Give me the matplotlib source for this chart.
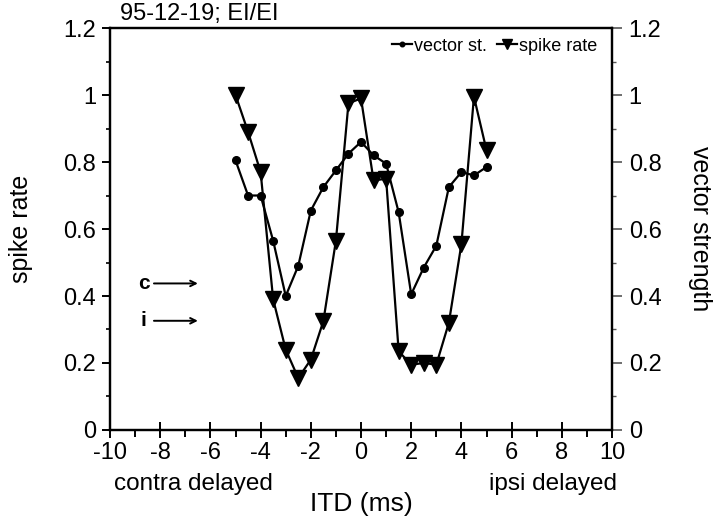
import matplotlib
matplotlib.use('Agg')
import matplotlib.pyplot as plt
from matplotlib.ticker import MultipleLocator

plt.rcParams['font.family'] = ['Liberation Sans', 'DejaVu Sans']

# ITD in ms
itd = [-5, -4.5, -4, -3.5, -3, -2.5, -2, -1.5, -1, -0.5, 0,
       0.5, 1, 1.5, 2, 2.5, 3, 3.5, 4, 4.5, 5]
vector_st = [0.805, 0.70, 0.70, 0.565, 0.40, 0.49, 0.655, 0.725, 0.775, 0.825, 0.86,
             0.82, 0.795, 0.65, 0.405, 0.485, 0.55, 0.725, 0.77, 0.76, 0.785]
spike_rate = [1.0, 0.89, 0.77, 0.39, 0.24, 0.155, 0.21, 0.325, 0.565, 0.975, 0.99,
              0.745, 0.75, 0.235, 0.195, 0.20, 0.195, 0.32, 0.555, 0.995, 0.835]

yticks = [0, 0.2, 0.4, 0.6, 0.8, 1, 1.2]
ytick_labels = ['0', '0.2', '0.4', '0.6', '0.8', '1', '1.2']
xticks = list(range(-10, 11, 2))

fig = plt.figure(figsize=(7.2, 5.18), dpi=100)
ax = fig.add_axes([0.1528, 0.1699, 0.6972, 0.776])

ax.plot(itd, vector_st, color='black', lw=1.6, marker='o', ms=5.5, label='vector st.')
ax.plot(itd, spike_rate, color='black', lw=1.6, marker='v', ms=11, label='spike rate')

ax.set_xlim(-10, 10)
ax.set_ylim(0, 1.2)
ax.set_xticks(xticks)
ax.set_xticklabels([str(v) for v in xticks])
ax.xaxis.set_minor_locator(MultipleLocator(1))
ax.set_yticks(yticks)
ax.set_yticklabels(ytick_labels)
ax.yaxis.set_minor_locator(MultipleLocator(0.1))
for s in ax.spines.values():
    s.set_linewidth(1.6)
ax.tick_params(axis='both', labelsize=17, width=1.4)
ax.tick_params(axis='x', which='major', direction='inout', length=12, pad=3)
ax.tick_params(axis='x', which='minor', direction='out', length=5, width=1.4)
ax.tick_params(axis='y', which='major', direction='out', length=6, pad=4)
ax.tick_params(axis='y', which='minor', direction='out', length=3, width=1.2)

ax2 = ax.twinx()
ax2.set_ylim(0, 1.2)
ax2.set_yticks(yticks)
ax2.set_yticklabels(ytick_labels)
ax2.yaxis.set_minor_locator(MultipleLocator(0.1))
ax2.tick_params(axis='y', labelsize=17, width=1.2, length=7, direction='out', pad=5,
                color='#555555')
ax2.tick_params(axis='y', which='minor', length=3, width=1.0, direction='out',
                color='#555555')
for s in ax2.spines.values():
    s.set_linewidth(1.6)

ax.set_ylabel('spike rate', fontsize=18, labelpad=22)
ax2.set_ylabel('vector strength', fontsize=18, rotation=270, labelpad=36)
ax.set_xlabel('ITD (ms)', fontsize=19, labelpad=20)

ax.text(-9.84, -0.16, 'contra delayed', fontsize=17.5, ha='left', va='center')
ax.text(10.2, -0.16, 'ipsi delayed', fontsize=17.5, ha='right', va='center')
ax.text(-9.6, 1.21, '95-12-19; EI/EI', fontsize=17, ha='left', va='bottom')

# c / i reference arrows
for yv, lab in [(0.4375, 'c'), (0.326, 'i')]:
    ax.annotate('', xy=(-6.5, yv), xytext=(-8.25, yv),
                arrowprops=dict(arrowstyle='->', color='black', lw=1.4,
                                shrinkA=0, shrinkB=0))
    ax.text(-8.65, yv, lab, fontsize=15, fontweight='bold', ha='center', va='center')

leg = ax.legend(loc='center right', ncol=2, frameon=False, fontsize=13,
                handlelength=1.1, handletextpad=0.1, columnspacing=0.6,
                markerscale=0.6, bbox_to_anchor=(0.985, 0.955), borderaxespad=0.0)

fig.savefig('out.png', dpi=100)
